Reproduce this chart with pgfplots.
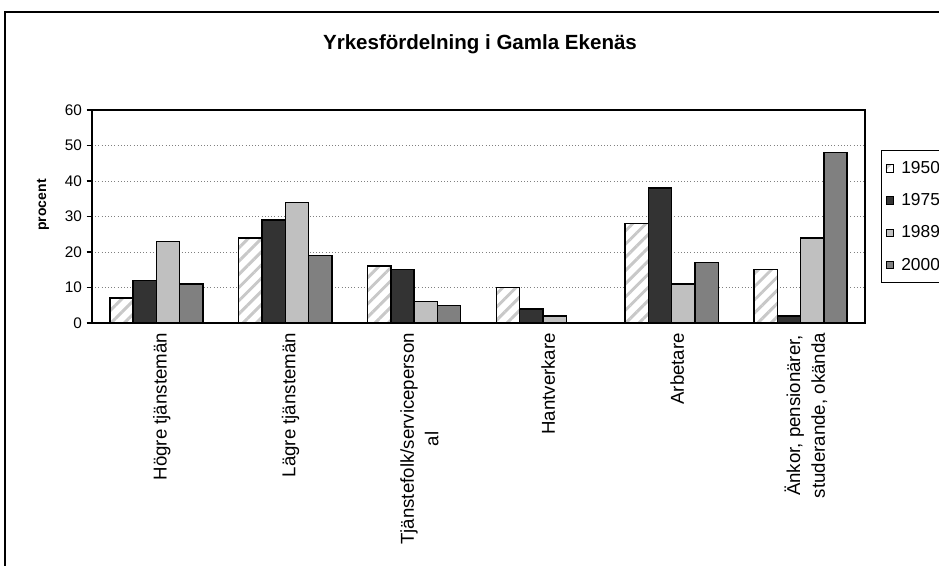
\documentclass[border=0pt]{standalone}
\usepackage{pgfplots}
\pgfplotsset{compat=1.18}
\usepackage{fontspec}
\setmainfont{Liberation Sans}
\usetikzlibrary{patterns.meta}

% 1 px of the reference = 0.75pt
\definecolor{c75}{HTML}{333333}
\definecolor{c89}{HTML}{C0C0C0}
\definecolor{c00}{HTML}{808080}
\definecolor{hatch}{HTML}{C8C8C8}

\pgfplotsset{
  sq legend/.style={legend image code/.code={
      \draw[##1, line width=0.6pt] (0pt,-2.8pt) rectangle (5.6pt,2.8pt);
      \path (9pt,0pt);}},
}

\begin{document}
\begin{tikzpicture}
\clip (0,0) rectangle (704.25pt,-424.5pt);
% frame of the page
\draw[line width=1.8pt] (3.75pt,-430pt) -- (3.75pt,-9pt) -- (710pt,-9pt);

\node[anchor=base, font=\fontsize{15.4}{18}\selectfont\bfseries] at (360pt,-37.5pt)
  {Yrkesfördelning i Gamla Ekenäs};

\begin{axis}[
  at={(69pt,-242.25pt)}, anchor=south west,
  scale only axis, width=579.75pt, height=159.75pt,
  xmin=0.5, xmax=6.5, ymin=0, ymax=60,
  ytick={0,10,...,60},
  xtick={1,...,6},
  xtick pos=bottom, ytick pos=left,
  xticklabels={Högre tjänstemän, Lägre tjänstemän, {Tjänstefolk/serviceperson\\al},
    Hantverkare, Arbetare, {Änkor, pensionärer,\\studerande, okända}},
  x tick label style={rotate=90, anchor=east, align=center,
    font=\fontsize{14}{18.5}\selectfont, yshift=-4pt},
  y tick label style={font=\fontsize{11.5}{13}\selectfont},
  /pgf/number format/assume math mode=true,
  major x tick style={draw=none},
  extra x ticks={0.5,1.5,...,6.5},
  extra x tick labels={},
  extra x tick style={major tick length=4pt, tick align=outside, grid=none,
    major tick style={draw=black, line width=0.9pt}},
  tick align=outside, major tick length=4pt,
  tick style={black, line width=0.9pt},
  axis line style={black, line width=1.1pt},
  ymajorgrids, grid style={gray, dotted, line width=0.6pt},
  ylabel={procent},
  ylabel style={at={(axis description cs:-0.0634,0.554)}, anchor=center,
    font=\fontsize{10.5}{12}\selectfont\bfseries},
  ybar=0pt, bar width=0.181,
  legend style={at={(axis description cs:1.0207,0.812)}, anchor=north west,
    draw=black, line width=0.8pt, font=\fontsize{13}{15}\selectfont,
    row sep=9.6pt, inner xsep=3pt, inner ysep=6pt, legend cell align=left},
]
\addplot[sq legend, draw=black, line width=1.1pt, fill=white,
  postaction={pattern={Lines[angle=45,distance=7pt,line width=2.2pt]}, pattern color=hatch}]
  coordinates {(1,7) (2,24) (3,16) (4,10) (5,28) (6,15)};
\addlegendentry{1950}
\addplot[sq legend, draw=black, line width=1.1pt, fill=c75]
  coordinates {(1,12) (2,29) (3,15) (4,4) (5,38) (6,2)};
\addlegendentry{1975}
\addplot[sq legend, draw=black, line width=1.1pt, fill=c89]
  coordinates {(1,23) (2,34) (3,6) (4,2) (5,11) (6,24)};
\addlegendentry{1989}
\addplot[sq legend, draw=black, line width=1.1pt, fill=c00]
  coordinates {(1,11) (2,19) (3,5) (4,0) (5,17) (6,48)};
\addlegendentry{2000}
\end{axis}
\end{tikzpicture}
\end{document}
